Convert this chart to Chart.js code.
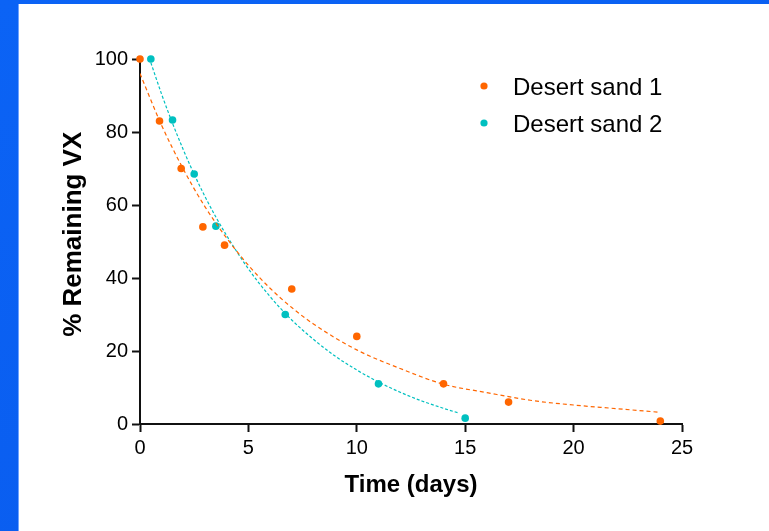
<!DOCTYPE html>
<html>
<head>
<meta charset="utf-8">
<script src="https://cdn.jsdelivr.net/npm/chart.js@4"></script>
<style>
  html, body { margin: 0; padding: 0; }
  body {
    width: 769px; height: 531px; overflow: hidden; position: relative;
    background: linear-gradient(160deg, #0b63f5 0%, #0a5ef0 70%, #0047b3 72%, #0044ad 100%);
  }
  #slide {
    position: absolute; left: 18px; top: 4px; right: 0; bottom: 0;
    background: #fff; border-left: 1px solid #6fa3ff;
  }
  #chartBox { position: absolute; left: 0; top: 0; width: 769px; height: 531px; }
</style>
</head>
<body>
<div id="slide"></div>
<div id="chartBox"><canvas id="decayChart" width="769" height="531"></canvas></div>
<script>
/* ===== Data ===== */
const sand1Days = [0, 0.9, 1.9, 2.9, 3.9, 7, 10, 14, 17, 24];
const sand1Remaining = [100, 83, 70, 54, 49, 37, 24, 11, 6, 0.8];

const sand2Days = [0.5, 1.5, 2.5, 3.5, 6.7, 11, 15];
const sand2Remaining = [100, 83.3, 68.5, 54.2, 30, 11, 1.6];

// dashed fit curves
const fit1Days = [0, 1, 2, 3, 4, 5, 6, 7, 8, 10, 12, 14, 16, 18, 20, 22, 24];
const fit1Remaining = [96, 81.8, 69.8, 59.5, 50.9, 43.5, 37.2, 31.9, 27.4, 20.3, 15.2, 10.9, 8.6, 6.5, 5.2, 4.2, 3.2];

const fit2Days = [0.5, 1, 1.5, 2, 2.5, 3, 3.5, 4, 5, 6, 7, 8, 9, 10, 11, 12, 13, 14, 14.7];
const fit2Remaining = [99, 90.3, 82.4, 75.1, 68.4, 62.3, 56.7, 51.6, 42.5, 34.9, 28.5, 23.2, 18.6, 14.8, 11.5, 8.7, 6.3, 4.3, 3.0];

const seriesLabels = ['Desert sand 1', 'Desert sand 2'];
const xTicks = [0, 5, 10, 15, 20, 25];
const yTicks = [0, 20, 40, 60, 80, 100];

const orange = '#ff6600';
const teal = '#00c0c0';
const FONT = 'Arial, "Liberation Sans", sans-serif';

function toPoints(xs, ys){
    return xs.map((x, i) => ({x: x, y: ys[i]}));
}

/* ===== Legend drawn inside the plot area ===== */
const insideLegend = {
    id: 'insideLegend',
    afterDraw(chart){
        const ctx = chart.ctx;
        const area = chart.chartArea;
        const items = chart.data.datasets.filter(d => d.label);
        ctx.save();
        ctx.font = '24px ' + FONT;
        ctx.textBaseline = 'alphabetic';
        ctx.textAlign = 'left';
        items.forEach((ds, i) => {
            const cy = area.top + 27 + i * 37;
            ctx.fillStyle = ds.backgroundColor;
            ctx.beginPath();
            ctx.arc(area.right - 198, cy, 3.6, 0, Math.PI * 2);
            ctx.fill();
            ctx.fillStyle = '#000';
            ctx.fillText(ds.label, area.right - 169, cy + 9);
        });
        ctx.restore();
    }
};

/* ===== Chart ===== */
const decayChart = new Chart(document.getElementById('decayChart'), {
    type: 'scatter',
    data: {
        datasets: [
            {
                label: '',
                data: toPoints(fit1Days, fit1Remaining),
                showLine: true,
                borderColor: orange,
                borderWidth: 1.2,
                borderDash: [4, 3],
                pointRadius: 0,
                cubicInterpolationMode: 'monotone'
            },
            {
                label: '',
                data: toPoints(fit2Days, fit2Remaining),
                showLine: true,
                borderColor: teal,
                borderWidth: 1.2,
                borderDash: [3, 2],
                pointRadius: 0,
                cubicInterpolationMode: 'monotone'
            },
            {
                label: seriesLabels[0],
                data: toPoints(sand1Days, sand1Remaining),
                backgroundColor: orange,
                borderWidth: 0,
                pointRadius: 3.8,
                clip: false
            },
            {
                label: seriesLabels[1],
                data: toPoints(sand2Days, sand2Remaining),
                backgroundColor: teal,
                borderWidth: 0,
                pointRadius: 3.8,
                clip: false
            }
        ]
    },
    options: {
        responsive: false,
        animation: false,
        events: [],
        layout: { padding: { left: 54, top: 59, right: 87, bottom: 27 } },
        plugins: {
            legend: { display: false },
            tooltip: { enabled: false }
        },
        scales: {
            x: {
                type: 'linear',
                min: 0, max: 25,
                afterFit: s => { s.height = 80; },
                afterBuildTicks: s => { s.ticks = xTicks.map(v => ({value: v})); },
                grid: { drawOnChartArea: false, tickLength: 8, tickColor: '#111', tickWidth: 2 },
                border: { color: '#111', width: 2 },
                ticks: { color: '#000', padding: 4, font: { size: 20, family: FONT } },
                title: {
                    display: true, text: 'Time (days)', color: '#000',
                    font: { size: 24, weight: 'bold', family: FONT }
                }
            },
            y: {
                min: 0, max: 100,
                afterFit: s => { s.width = 86; },
                afterBuildTicks: s => { s.ticks = yTicks.map(v => ({value: v})); },
                grid: { drawOnChartArea: false, tickLength: 8, tickColor: '#111', tickWidth: 2 },
                border: { color: '#111', width: 2 },
                ticks: { color: '#000', padding: 4, font: { size: 20, family: FONT } },
                title: {
                    display: true, text: '  % Remaining VX', color: '#000',
                    font: { size: 26, weight: 'bold', family: FONT }
                }
            }
        }
    },
    plugins: [insideLegend]
});
</script>
</body>
</html>
